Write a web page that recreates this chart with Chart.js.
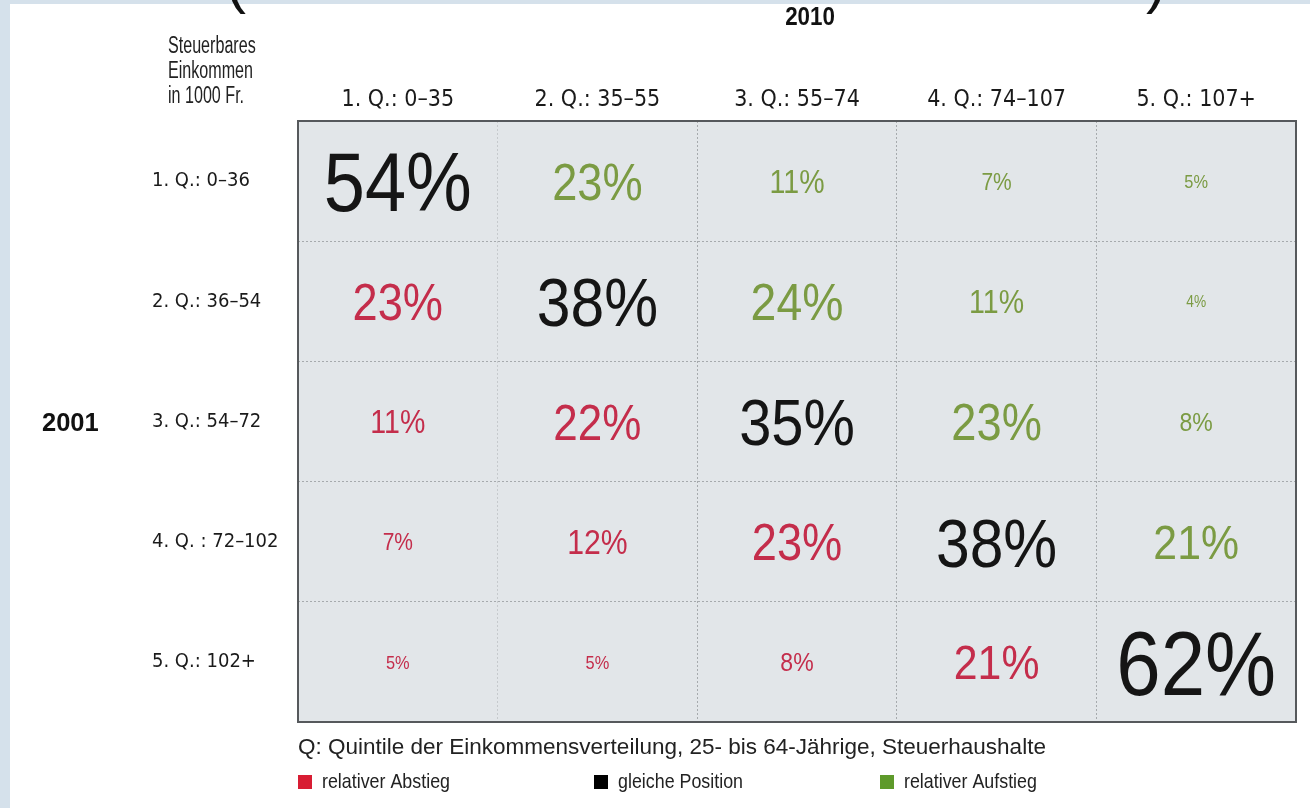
<!DOCTYPE html>
<html>
<head>
<meta charset="utf-8">
<script src="https://cdn.jsdelivr.net/npm/chart.js@4.4.1/dist/chart.umd.min.js"></script>
<style>
  html, body { margin: 0; padding: 0; background: #d5e1eb; }
  #wrap { position: relative; width: 1310px; height: 808px; }
</style>
</head>
<body>
<div id="wrap"><canvas id="chart" width="1310" height="808"></canvas></div>
<script>
// 2010 quintile (columns) vs 2001 quintile (rows)
const colLabels = ['1. Q.: 0–35', '2. Q.: 35–55', '3. Q.: 55–74', '4. Q.: 74–107', '5. Q.: 107+'];
const rowLabels = ['1. Q.: 0–36', '2. Q.: 36–54', '3. Q.: 54–72', '4. Q. : 72–102', '5. Q.: 102+'];

const q1_2001 = [54, 23, 11, 7, 5];
const q2_2001 = [23, 38, 24, 11, 4];
const q3_2001 = [11, 22, 35, 23, 8];
const q4_2001 = [7, 12, 23, 38, 21];
const q5_2001 = [5, 5, 8, 21, 62];

const legendLabels = ['relativer Abstieg', 'gleiche Position', 'relativer Aufstieg'];
const noteText = 'Q: Quintile der Einkommensverteilung, 25- bis 64-Jährige, Steuerhaushalte';
const yearCols = '2010';
const yearRows = '2001';
const cornerLines = ['Steuerbares', 'Einkommen', 'in 1000 Fr.'];

const RED = '#c42d4b';
const BLACK = '#151515';
const GREEN = '#7b9b43';
const SWATCH = ['#d81d33', '#000000', '#5e9a2b'];
const LABEL_FONT = '"DejaVu Sans Condensed", "Liberation Sans", Arial, sans-serif';
const TEXT_FONT = '"Liberation Sans", Arial, sans-serif';
const NUM_FONT = '"Liberation Sans", Arial, sans-serif';

const rows = [q1_2001, q2_2001, q3_2001, q4_2001, q5_2001];
const cells = [];
rows.forEach((r, i) => {
  r.forEach((v, j) => {
    cells.push({ x: colLabels[j], y: rowLabels[i], v, rel: Math.sign(j - i) });
  });
});

const colorFor = rel => rel === 0 ? BLACK : (rel > 0 ? GREEN : RED);

// condensed text helper (no narrow font installed)
const squeezeText = (ctx, text, x, y, sx) => {
  ctx.save();
  ctx.translate(x, y);
  ctx.scale(sx, 1);
  ctx.fillText(text, 0, 0);
  ctx.restore();
};

// page background, the grey table body and the cropped heading above
const backdrop = {
  id: 'backdrop',
  beforeDraw(chart) {
    const { ctx, chartArea: a } = chart;
    ctx.save();
    ctx.fillStyle = '#d5e1eb';
    ctx.fillRect(0, 0, chart.width, chart.height);
    ctx.fillStyle = '#ffffff';
    ctx.fillRect(10, 4, chart.width - 10, chart.height - 4);
    ctx.fillStyle = '#e2e6e9';
    ctx.fillRect(a.left, a.top, a.right - a.left, a.bottom - a.top);
    // bits of the big heading that got cut off
    ctx.fillStyle = '#111';
    ctx.font = '60px ' + NUM_FONT;
    ctx.textBaseline = 'alphabetic';
    ctx.fillText('(', 226, 2);
    ctx.fillText(')', 1146, 2);
    ctx.restore();
  }
};

// percentages in each cell, size follows the value
const cellText = {
  id: 'cellText',
  afterDatasetsDraw(chart) {
    const { ctx } = chart;
    const meta = chart.getDatasetMeta(0);
    ctx.save();
    ctx.textAlign = 'center';
    ctx.textBaseline = 'alphabetic';
    meta.data.forEach((pt, k) => {
      const c = cells[k];
      const fs = 12.8 * Math.sqrt(c.v) - 10;
      ctx.font = fs + 'px ' + NUM_FONT;
      ctx.fillStyle = colorFor(c.rel);
      squeezeText(ctx, c.v + '%', pt.x, pt.y + fs * 0.36, 0.88);
    });
    ctx.restore();
  }
};

// frame, side captions, footnote and legend
const extras = {
  id: 'extras',
  afterDraw(chart) {
    const { ctx, chartArea: a } = chart;
    ctx.save();
    ctx.strokeStyle = '#56595c';
    ctx.lineWidth = 2;
    ctx.strokeRect(a.left, a.top, a.right - a.left, a.bottom - a.top);

    ctx.textBaseline = 'middle';
    ctx.textAlign = 'left';
    ctx.fillStyle = '#222';
    ctx.font = '23px ' + TEXT_FONT;
    cornerLines.forEach((t, i) => squeezeText(ctx, t, 168, 47 + i * 25, 0.7));

    ctx.fillStyle = '#111';
    ctx.font = 'bold 26px ' + TEXT_FONT;
    squeezeText(ctx, yearRows, 42, chart.scales.y.getPixelForValue(2) + 2, 0.98);
    ctx.textAlign = 'center';
    squeezeText(ctx, yearCols, 810, 18, 0.86);

    ctx.textAlign = 'left';
    ctx.fillStyle = '#222';
    ctx.font = '22.5px ' + TEXT_FONT;
    squeezeText(ctx, noteText, a.left, 748, 1);

    const legendX = [a.left, 594, 880];
    ctx.font = '21px ' + TEXT_FONT;
    legendLabels.forEach((t, i) => {
      ctx.fillStyle = SWATCH[i];
      ctx.fillRect(legendX[i], 775, 14, 14);
      ctx.fillStyle = '#222';
      squeezeText(ctx, t, legendX[i] + 24, 782, 0.85);
    });
    ctx.restore();
  }
};

new Chart(document.getElementById('chart'), {
  type: 'scatter',
  data: {
    datasets: [{
      data: cells.map(c => ({ x: c.x, y: c.y })),
      pointRadius: 0,
      pointHoverRadius: 0
    }]
  },
  options: {
    responsive: false,
    animation: false,
    events: [],
    layout: { padding: { left: 152, right: 14, top: 0, bottom: 86 } },
    plugins: { legend: { display: false }, tooltip: { enabled: false } },
    scales: {
      x: {
        type: 'category',
        labels: colLabels,
        position: 'top',
        offset: true,
        afterFit: s => { s.height = 121; },
        grid: {
          offset: true,
          drawTicks: false,
          color: c => c.index === 1 ? '#c6cacd' : '#a6aaad',
          lineWidth: 1
        },
        border: { display: false, dash: [2, 2] },
        ticks: { color: '#1a1a1a', padding: 7, font: { family: LABEL_FONT, size: 23 } }
      },
      y: {
        type: 'category',
        labels: rowLabels,
        offset: true,
        afterFit: s => { s.width = 146; },
        grid: {
          offset: true,
          drawTicks: false,
          color: '#a6aaad',
          lineWidth: 1
        },
        border: { display: false, dash: [2, 2] },
        ticks: { color: '#1a1a1a', crossAlign: 'far', font: { family: LABEL_FONT, size: 20 } }
      }
    }
  },
  plugins: [backdrop, cellText, extras]
});
</script>
</body>
</html>
